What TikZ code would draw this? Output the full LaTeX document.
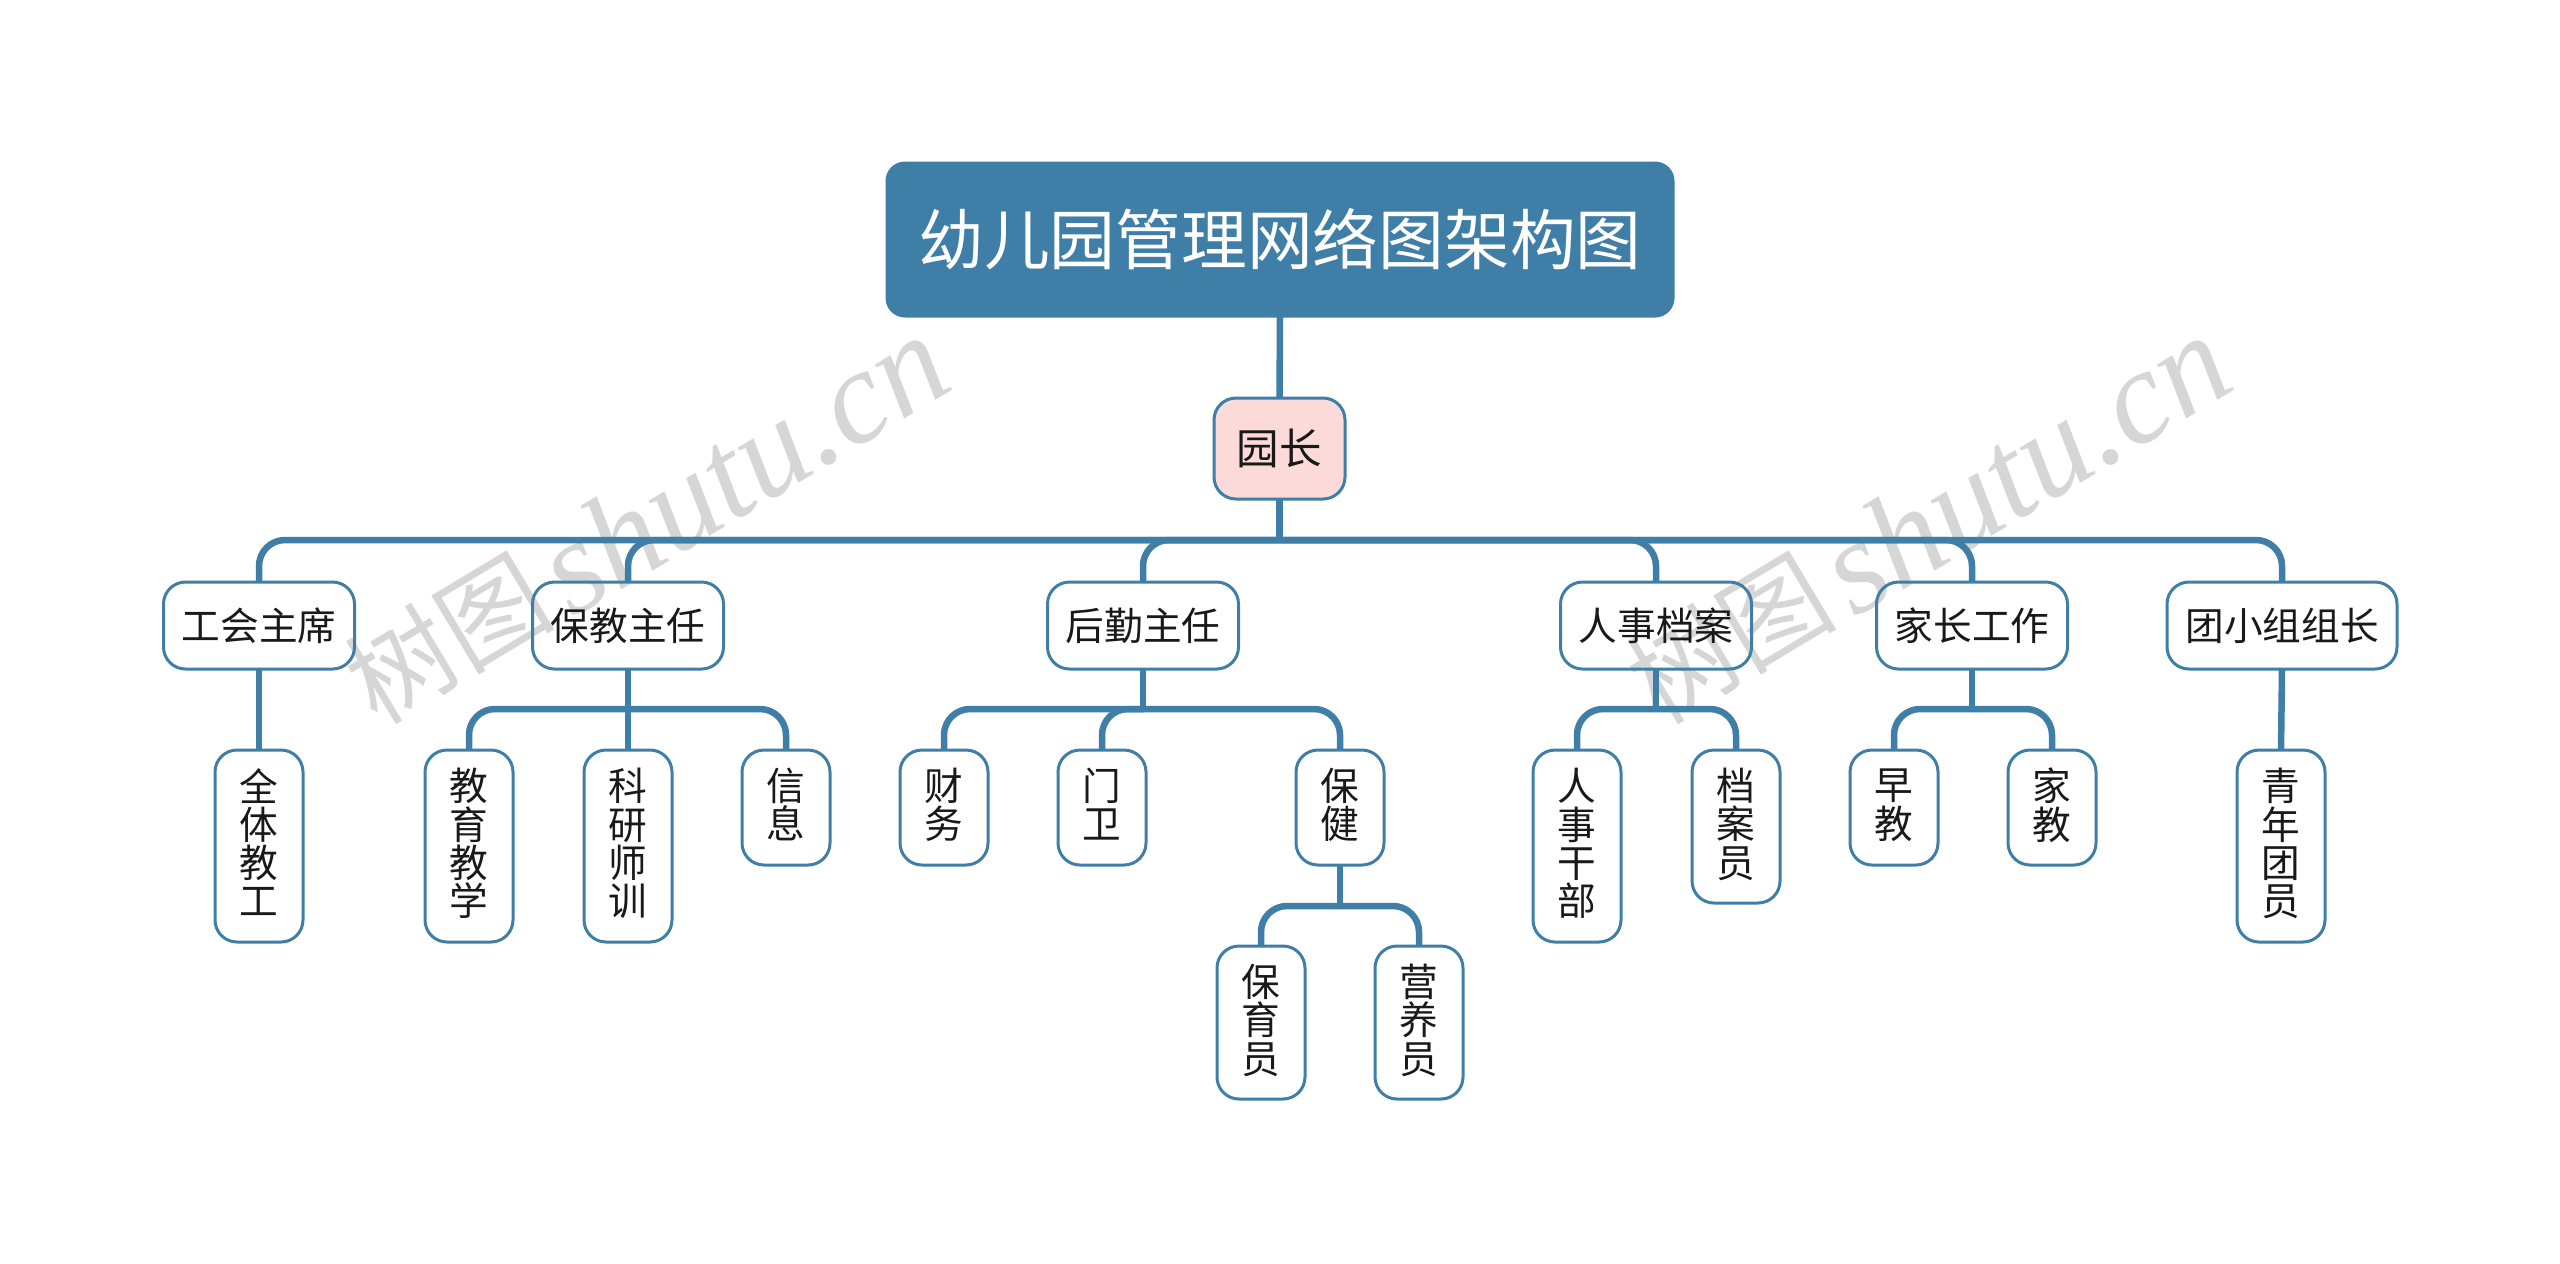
\documentclass[tikz,border=0pt]{standalone}
\usepackage{fontspec}
\setmainfont{Noto Sans CJK SC}
\newfontfamily\markfont{Liberation Serif}
\definecolor{linkblue}{HTML}{3F7EA6}
\definecolor{headpink}{HTML}{FCDADA}
\definecolor{markgray}{HTML}{D6D6D6}
\tikzset{
	box/.style={draw=linkblue, line width=0.03cm, rounded corners=0.22cm, inner sep=0pt, outer sep=0pt, align=center, text=black!90, font=\fontsize{11}{10.9}\selectfont},
	wide/.style={box, minimum width=1.91cm, minimum height=0.87cm},
	tall/.style={box, minimum width=0.88cm, minimum height=#1 cm, text depth=0.08cm},
	link/.style={draw=linkblue, line width=0.065cm, rounded corners=0.26cm},
	wmark/.style={text=markgray, rotate=31, inner sep=0pt, font=\fontsize{30}{30}\selectfont}
}
\newcommand{\marktext}{\raisebox{0.08cm}{树图}\hspace{0.12cm}{\markfont\fontsize{38}{38}\selectfont\itshape shutu.cn}}
\begin{document}
\begin{tikzpicture}[line join=round]
	\useasboundingbox (0,0) rectangle (25.6,-12.63);
	% watermark
	\node[wmark] (markA) at (6.45,-5.2) {\marktext};
	\node[wmark] (markB) at (19.27,-5.2) {\marktext};
	% top
	\node[box, minimum width=7.86cm, minimum height=1.53cm, rounded corners=0.18cm, fill=linkblue, text=white, font=\fontsize{18.7}{18.7}\selectfont] (root) at (12.8,-2.395) {幼儿园管理网络图架构图};
	\node[box, minimum width=1.31cm, minimum height=1.01cm, fill=headpink, font=\fontsize{12.1}{12.1}\selectfont] (head) at (12.795,-4.485) {园长};
	% second level
	\node[wide] (union) at (2.59,-6.255) {工会主席};
	\node[wide] (care) at (6.28,-6.255) {保教主任};
	\node[wide] (logis) at (11.43,-6.255) {后勤主任};
	\node[wide] (staff) at (16.56,-6.255) {人事档案};
	\node[wide] (parent) at (19.72,-6.255) {家长工作};
	\node[box, minimum width=2.3cm, minimum height=0.87cm] (youth) at (22.82,-6.255) {团小组组长};
	% third level
	\node[tall=1.92] (all) at (2.59,-8.46) {全\\体\\教\\工};
	\node[tall=1.92] (teach) at (4.69,-8.46) {教\\育\\教\\学};
	\node[tall=1.92] (study) at (6.28,-8.46) {科\\研\\师\\训};
	\node[tall=1.15] (info) at (7.86,-8.075) {信\\息};
	\node[tall=1.15] (money) at (9.44,-8.075) {财\\务};
	\node[tall=1.15] (gate) at (11.02,-8.075) {门\\卫};
	\node[tall=1.15] (health) at (13.4,-8.075) {保\\健};
	\node[tall=1.92] (cadre) at (15.77,-8.46) {人\\事\\干\\部};
	\node[tall=1.53] (file) at (17.36,-8.265) {档\\案\\员};
	\node[tall=1.15] (early) at (18.94,-8.075) {早\\教};
	\node[tall=1.15] (home) at (20.52,-8.075) {家\\教};
	\node[tall=1.92] (league) at (22.81,-8.46) {青\\年\\团\\员};
	% fourth level
	\node[tall=1.53] (nurse) at (12.61,-10.225) {保\\育\\员};
	\node[tall=1.53] (diet) at (14.19,-10.225) {营\\养\\员};
	% hubs
	\coordinate (hubTop) at (12.795,-5.4);
	\coordinate (hubCare) at (6.28,-7.09);
	\coordinate (hubLogis) at (11.43,-7.09);
	\coordinate (hubStaff) at (16.56,-7.09);
	\coordinate (hubParent) at (19.72,-7.09);
	\coordinate (hubHealth) at (13.4,-9.06);
	% links
	\draw[link] (root.south) -- (head.north);
	\draw[link] (head.south) -- (hubTop);
	\foreach \n in {union,care,logis,staff,parent,youth}
		\draw[link] (hubTop) -| (\n.north);
	\draw[link] (union.south) -- (all.north);
	\draw[link] (youth.south) -- (league.north);
	\draw[link] (care.south) -- (study.north);
	\foreach \n in {teach,info}
		\draw[link] (hubCare) -| (\n.north);
	\draw[link] (logis.south) -- (hubLogis);
	\foreach \n in {money,gate,health}
		\draw[link] (hubLogis) -| (\n.north);
	\draw[link] (staff.south) -- (hubStaff);
	\foreach \n in {cadre,file}
		\draw[link] (hubStaff) -| (\n.north);
	\draw[link] (parent.south) -- (hubParent);
	\foreach \n in {early,home}
		\draw[link] (hubParent) -| (\n.north);
	\draw[link] (health.south) -- (hubHealth);
	\foreach \n in {nurse,diet}
		\draw[link] (hubHealth) -| (\n.north);
\end{tikzpicture}
\end{document}
